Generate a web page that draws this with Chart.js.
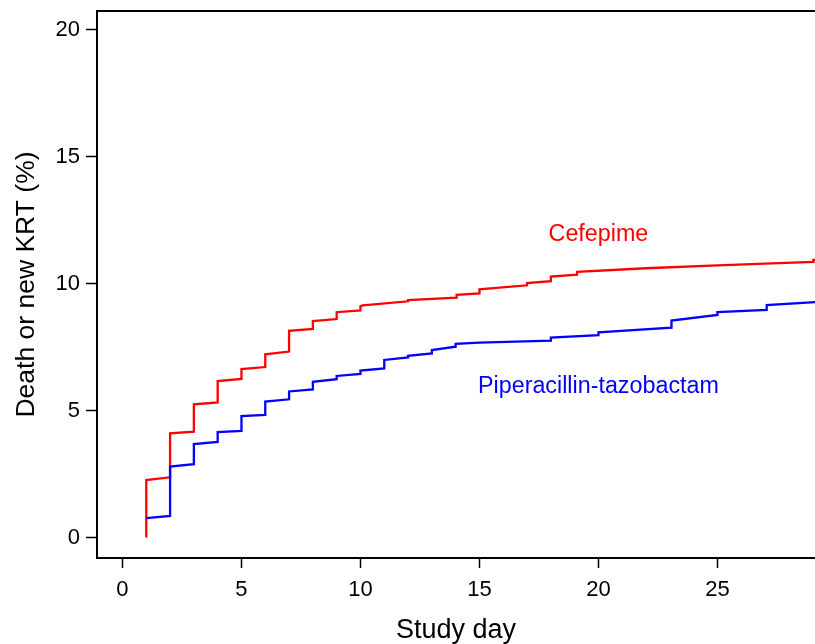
<!DOCTYPE html>
<html>
<head>
<meta charset="utf-8">
<script src="https://cdn.jsdelivr.net/npm/chart.js@4"></script>
<style>
  html, body { margin: 0; padding: 0; background: #fff; }
  #wrap { width: 815px; height: 644px; position: relative; }
</style>
</head>
<body>
<div id="wrap"><canvas id="c"></canvas></div>
<script>
// ---- data ----
const cefepimeDays = [1, 1, 2, 2, 3, 3, 4, 4, 5, 5, 6, 6, 7, 7, 8, 8, 9, 9, 10, 10, 10.1, 12, 12, 14.04, 14.04, 15, 15, 17, 17, 18, 18, 19.1, 19.1, 22, 25, 27, 29.03, 29.03, 29.2];
const cefepimePct  = [0, 2.26, 2.37, 4.10, 4.17, 5.24, 5.32, 6.16, 6.24, 6.63, 6.71, 7.21, 7.32, 8.14, 8.21, 8.52, 8.60, 8.87, 8.94, 9.11, 9.14, 9.30, 9.35, 9.44, 9.55, 9.61, 9.77, 9.93, 10.02, 10.09, 10.27, 10.35, 10.46, 10.60, 10.71, 10.78, 10.85, 10.93, 10.93];

const pipTazDays = [1, 2, 2, 3, 3, 4, 4, 5, 5, 6, 6, 7, 7, 8, 8, 9, 9, 10, 10, 11, 11, 12, 12, 13, 13, 14, 14, 15, 18, 18, 20, 20, 23.07, 23.07, 25, 25, 27.07, 27.07, 29.2];
const pipTazPct  = [0.76, 0.85, 2.79, 2.89, 3.68, 3.76, 4.15, 4.20, 4.78, 4.83, 5.35, 5.44, 5.75, 5.83, 6.13, 6.23, 6.36, 6.44, 6.57, 6.66, 6.99, 7.09, 7.15, 7.25, 7.38, 7.51, 7.62, 7.67, 7.75, 7.87, 7.97, 8.08, 8.26, 8.54, 8.76, 8.87, 8.96, 9.15, 9.27];

const xTickValues = [0, 5, 10, 15, 20, 25];
const yTickValues = [0, 5, 10, 15, 20];

const seriesNames = ['Cefepime', 'Piperacillin-tazobactam'];
const labelDays   = [20, 20];
const labelPct    = [11.69, 5.68];

// ---- build ----
const toPts = (xs, ys) => xs.map((x, i) => ({ x: x, y: ys[i] }));
const FONT = '"Liberation Sans", Arial, Helvetica, sans-serif';
const RED = '#ff0000', BLUE = '#0000ff';

const framePlugin = {
  id: 'frame',
  afterDraw(chart) {
    const { ctx, chartArea } = chart;
    ctx.save();
    ctx.strokeStyle = '#000';
    ctx.lineWidth = 2;
    ctx.beginPath();
    ctx.moveTo(chartArea.left - 1, chartArea.top);
    ctx.lineTo(chart.width, chartArea.top);
    ctx.stroke();
    ctx.restore();
  }
};

const labelPlugin = {
  id: 'seriesLabels',
  afterDatasetsDraw(chart) {
    const { ctx, scales } = chart;
    const colors = [RED, BLUE];
    ctx.save();
    ctx.font = '23.3px ' + FONT;
    ctx.textAlign = 'center';
    ctx.textBaseline = 'alphabetic';
    seriesNames.forEach((name, i) => {
      ctx.fillStyle = colors[i];
      ctx.fillText(name, scales.x.getPixelForValue(labelDays[i]), scales.y.getPixelForValue(labelPct[i]));
    });
    ctx.restore();
  }
};

new Chart(document.getElementById('c'), {
  type: 'line',
  data: {
    datasets: [
      {
        label: seriesNames[1],
        data: toPts(pipTazDays, pipTazPct),
        borderColor: BLUE,
        borderWidth: 2.3,
        pointRadius: 0,
        tension: 0,
        fill: false
      },
      {
        label: seriesNames[0],
        data: toPts(cefepimeDays, cefepimePct),
        borderColor: RED,
        borderWidth: 2.3,
        pointRadius: 0,
        tension: 0,
        fill: false
      }
    ]
  },
  options: {
    responsive: true,
    maintainAspectRatio: false,
    animation: false,
    layout: { padding: { top: 11, left: 0, right: 0, bottom: 0 } },
    plugins: { legend: { display: false }, tooltip: { enabled: false } },
    scales: {
      x: {
        type: 'linear',
        position: 'bottom',
        min: -1.071,
        max: 29.1,
        afterBuildTicks: (s) => { s.ticks = xTickValues.map(v => ({ value: v })); },
        afterFit: (s) => { s.height = 86; s.paddingLeft = 0; s.paddingRight = 0; },
        grid: { drawOnChartArea: false, drawTicks: true, tickLength: 10, tickColor: '#000', tickWidth: 1.5 },
        border: { display: true, color: '#000', width: 2 },
        ticks: { color: '#000', font: { family: FONT, size: 22 }, padding: 9, maxRotation: 0, autoSkip: false },
        title: { display: true, text: 'Study day', color: '#000', font: { family: FONT, size: 27 }, padding: { top: 0, bottom: -3 } }
      },
      y: {
        type: 'linear',
        position: 'left',
        min: -0.807,
        max: 20.728,
        afterBuildTicks: (s) => { s.ticks = yTickValues.map(v => ({ value: v })); },
        afterFit: (s) => { s.width = 97; s.paddingTop = 0; s.paddingBottom = 0; },
        grid: { drawOnChartArea: false, drawTicks: true, tickLength: 11, tickColor: '#000', tickWidth: 1.5 },
        border: { display: true, color: '#000', width: 2 },
        ticks: { color: '#000', font: { family: FONT, size: 22 }, padding: 6 },
        title: { display: true, text: 'Death or new KRT (%)', color: '#000', font: { family: FONT, size: 26.5 }, padding: { top: 11, bottom: 0 } }
      }
    }
  },
  plugins: [framePlugin, labelPlugin]
});
</script>
</body>
</html>
